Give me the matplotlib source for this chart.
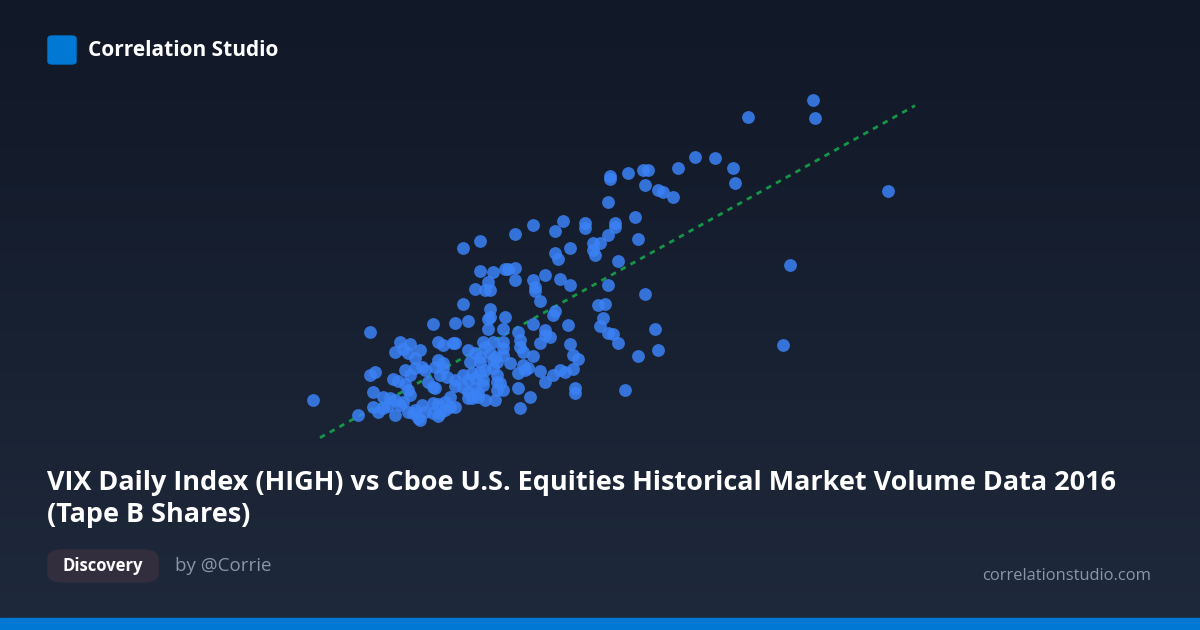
import numpy as np
import matplotlib.pyplot as plt
from matplotlib.patches import FancyBboxPatch, Rectangle

# VIX daily high vs Cboe Tape B volume (millions of shares), 2016
vix_high = [
    32.5, 32.6, 29.9, 35.5, 27.8, 28.6, 29.3, 29.4, 27.1, 25.7,
    25.9, 25.1, 24.4, 24.4, 25.8, 26.3, 26.5, 26.9, 24.3, 23.4,
    23.4, 24.6, 24.6, 25.4, 24.3, 23.7, 24.0, 23.7, 23.8, 25.5,
    24.7, 31.6, 24.3, 25.8, 23.9, 24.2, 24.1, 24.0, 24.3, 24.5,
    24.7, 26.2, 26.3, 31.3, 25.5, 23.1, 23.0, 23.0, 25.0, 18.5,
    19.2, 20.6, 21.3, 22.5, 22.2, 22.8, 22.2, 22.3, 19.2, 19.7,
    20.2, 20.3, 20.6, 19.5, 19.0, 19.4, 19.6, 20.6, 21.3, 21.4,
    21.4, 21.8, 22.4, 22.8, 21.6, 18.5, 19.6, 22.2, 22.1, 18.2,
    18.7, 19.5, 19.6, 20.2, 19.5, 20.1, 20.7, 21.3, 21.8, 21.8,
    22.0, 22.7, 17.3, 14.8, 20.8, 18.2, 17.7, 17.5, 18.7, 19.3,
    19.4, 19.7, 20.1, 20.1, 20.9, 20.8, 21.3, 21.6, 22.8, 22.9,
    16.0, 16.4, 15.8, 16.1, 16.8, 16.6, 16.3, 19.0, 19.2, 19.6,
    19.8, 19.7, 19.9, 20.1, 18.8, 19.2, 20.4, 20.7, 20.9, 21.0,
    21.1, 21.6, 21.8, 22.1, 22.4, 22.6, 22.9, 14.8, 15.0, 15.7,
    15.9, 16.2, 16.4, 16.6, 16.9, 17.0, 17.4, 17.7, 17.5, 17.6,
    17.9, 18.2, 17.1, 17.3, 17.4, 16.2, 16.3, 16.4, 14.9, 15.3,
    15.6, 15.3, 15.5, 15.8, 14.9, 15.1, 14.3, 15.8, 16.1, 16.3,
    16.5, 16.7, 16.6, 16.9, 17.3, 17.5, 17.8, 18.0, 17.0, 17.3,
    17.5, 17.8, 18.2, 18.2, 18.5, 18.5, 18.7, 18.9, 19.0, 19.2,
    19.4, 19.3, 18.7, 19.0, 19.1, 19.3, 18.7, 18.9, 19.1, 19.4,
    19.8, 19.9, 20.1, 20.7, 21.2, 20.8, 12.5, 17.6, 18.0, 19.7,
    19.9, 20.0, 19.9, 18.1, 17.7, 16.8, 16.0,
]
tape_b_shares = [
    420, 402, 403, 329, 363, 362, 352, 337, 352, 350,
    350, 347, 344, 341, 335, 330, 328, 323, 318, 297,
    292, 297, 293, 303, 285, 277, 277, 270, 265, 281,
    259, 255, 235, 226, 215, 216, 202, 194, 187, 186,
    177, 191, 170, 175, 164, 161, 132, 127, 130, 272,
    279, 286, 295, 299, 289, 272, 267, 261, 249, 248,
    251, 251, 252, 238, 231, 230, 230, 240, 240, 233,
    229, 245, 241, 235, 219, 216, 211, 209, 205, 197,
    199, 201, 203, 203, 191, 191, 188, 196, 190, 185,
    183, 195, 196, 188, 180, 177, 175, 178, 170, 178,
    173, 178, 178, 172, 168, 173, 164, 177, 176, 165,
    178, 176, 168, 171, 170, 162, 167, 167, 163, 167,
    163, 160, 158, 165, 158, 158, 157, 147, 155, 150,
    152, 149, 138, 145, 150, 148, 151, 145, 148, 141,
    139, 150, 145, 152, 153, 150, 153, 157, 160, 145,
    143, 140, 138, 133, 132, 136, 130, 125, 128, 123,
    122, 112, 114, 120, 113, 108, 105, 105, 118, 108,
    107, 102, 110, 115, 117, 116, 118, 113, 108, 107,
    104, 110, 113, 134, 133, 145, 140, 147, 142, 148,
    150, 140, 128, 132, 127, 135, 122, 122, 123, 120,
    120, 138, 130, 132, 123, 112, 120, 107, 123, 152,
    145, 137, 130, 177, 152, 100, 115,
]

title = "VIX Daily Index (HIGH) vs Cboe U.S. Equities Historical Market Volume Data 2016\n(Tape B Shares)"
brand = "Correlation Studio"
tag = "Discovery"
author = "by @Corrie"
site = "correlationstudio.com"

plt.rcParams['font.family'] = ['Open Sans', 'DejaVu Sans']

W, H = 1200, 630
fig = plt.figure(figsize=(W / 100, H / 100), dpi=100)

# background gradient
bg = fig.add_axes([0, 0, 1, 1])
top = np.array([17, 24, 39]) / 255
bot = np.array([30, 41, 59]) / 255
t = np.linspace(0, 1, 256)[:, None]
grad = top[None, :] * (1 - t) + bot[None, :] * t
bg.imshow(grad[:, None, :].repeat(2, axis=1), aspect='auto', extent=[0, 1, 0, 1])
bg.set_xlim(0, 1)
bg.set_ylim(0, 1)
bg.axis('off')

# scatter
ax = fig.add_axes([0, 0, 1, 1])
ax.patch.set_alpha(0)
ax.set_xlim(0, 48)
ax.set_ylim(-110, 520)
ax.axis('off')

x = np.array(vix_high)
y = np.array(tape_b_shares)
ax.scatter(x, y, s=85, color='#3b82f6', alpha=0.85, linewidths=0, zorder=3)

k, b = np.polyfit(x, y, 1)
xl = np.array([12.8, 36.6])
ax.plot(xl, k * xl + b, color='#16a34a', lw=2, ls=(0, (2, 2)), alpha=0.9, zorder=2)

def fx(px):
    return px / W

def fy(py):
    return 1 - py / H

# header
fig.patches.append(FancyBboxPatch((fx(48), fy(64)), 28 / W, 28 / H,
                                  boxstyle="round,pad=0,rounding_size=0.004",
                                  transform=fig.transFigure, color='#0078d4'))
fig.text(fx(88), fy(50), brand, color='white', fontsize=15, fontweight='bold',
         va='center', ha='left')

# title
fig.text(fx(47), fy(499), title, color='white', fontsize=19.45, fontweight='bold',
         va='center', ha='left', linespacing=1.32)

# pill + author
fig.patches.append(FancyBboxPatch((fx(48), fy(582)), 110 / W, 32 / H,
                                  boxstyle="round,pad=0,rounding_size=0.013",
                                  transform=fig.transFigure, color='#322e3d'))
fig.text(fx(103), fy(566), tag, color='white', fontsize=12, fontweight='bold',
         va='center', ha='center')
fig.text(fx(175), fy(566), author, color='#8b95a8', fontsize=13.5,
         va='center', ha='left')
fig.text(fx(1151), fy(576), site, color='#8b95a8', fontsize=11.9,
         va='center', ha='right')

# bottom bar
fig.patches.append(Rectangle((0, 0), 1, 12 / H, transform=fig.transFigure,
                             color='#0078d4'))

fig.savefig('out.png', dpi=100)
